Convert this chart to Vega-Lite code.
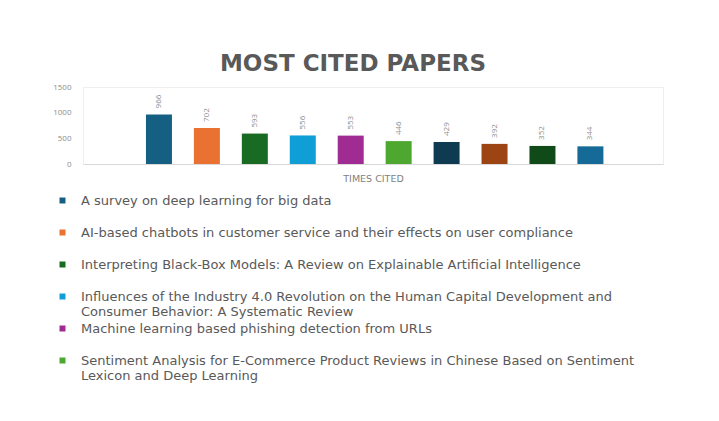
{
  "$schema": "https://vega.github.io/schema/vega-lite/v6.json",
  "width": 580,
  "height": 77,
  "padding": {"left": 52, "top": 53, "right": 10, "bottom": 10},
  "background": "white",
  "title": {
    "text": "MOST CITED PAPERS",
    "font": "DejaVu Sans",
    "fontSize": 23,
    "fontWeight": "bold",
    "color": "#595959",
    "anchor": "middle",
    "dx": -20,
    "offset": 7
  },
  "data": {
    "values": [
      {"paper": "A survey on deep learning for big data", "cited": 966, "rank": 1},
      {"paper": "AI-based chatbots in customer service and their effects on user compliance", "cited": 702, "rank": 2},
      {"paper": "Interpreting Black-Box Models: A Review on Explainable Artificial Intelligence", "cited": 593, "rank": 3},
      {"paper": "Influences of the Industry 4.0 Revolution on the Human Capital Development and Consumer Behavior: A Systematic Review", "cited": 556, "rank": 4},
      {"paper": "Machine learning based phishing detection from URLs", "cited": 553, "rank": 5},
      {"paper": "Sentiment Analysis for E-Commerce Product Reviews in Chinese Based on Sentiment Lexicon and Deep Learning", "cited": 446, "rank": 6},
      {"paper": "Paper 7", "cited": 429, "rank": 7},
      {"paper": "Paper 8", "cited": 392, "rank": 8},
      {"paper": "Paper 9", "cited": 352, "rank": 9},
      {"paper": "Paper 10", "cited": 344, "rank": 10}
    ]
  },
  "encoding": {
    "x": {
      "field": "rank",
      "type": "quantitative",
      "scale": {"domain": [-0.48, 11.41], "nice": false, "zero": false},
      "axis": {
        "labels": false,
        "ticks": false,
        "grid": false,
        "domain": true,
        "domainColor": "#d9d9d9",
        "title": "TIMES CITED",
        "titleFont": "DejaVu Sans",
        "titleFontSize": 9.5,
        "titleFontWeight": "normal",
        "titleColor": "#7f7f7f",
        "titlePadding": 9
      }
    },
    "y": {
      "field": "cited",
      "type": "quantitative",
      "scale": {"domain": [0, 1500]},
      "axis": {
        "values": [0, 500, 1000, 1500],
        "format": "d",
        "grid": false,
        "domain": false,
        "ticks": false,
        "title": null,
        "labelFont": "Open Sans",
        "labelFontSize": 8,
        "labelColor": "#8c8c8c",
        "labelPadding": 12
      }
    }
  },
  "layer": [
    {
      "mark": {"type": "bar", "size": 26},
      "encoding": {
        "color": {
          "field": "paper",
          "type": "nominal",
          "sort": {"field": "rank", "order": "ascending"},
          "scale": {
            "range": ["#156082", "#E97132", "#196B24", "#0F9ED5", "#A02B93", "#4EA72E", "#0E3A52", "#9C4414", "#104A19", "#166A98"]
          },
          "legend": {
            "orient": "none",
            "legendX": -27,
            "legendY": 107,
            "direction": "vertical",
            "columns": 1,
            "title": null,
            "values": [
              "A survey on deep learning for big data",
              "AI-based chatbots in customer service and their effects on user compliance",
              "Interpreting Black-Box Models: A Review on Explainable Artificial Intelligence",
              "Influences of the Industry 4.0 Revolution on the Human Capital Development and Consumer Behavior: A Systematic Review",
              "Machine learning based phishing detection from URLs",
              "Sentiment Analysis for E-Commerce Product Reviews in Chinese Based on Sentiment Lexicon and Deep Learning"
            ],
            "symbolType": "square",
            "symbolSize": 36,
            "symbolStrokeWidth": 0,
            "labelFont": "DejaVu Sans",
            "labelFontSize": 13,
            "labelColor": "#595959",
            "labelLimit": 0,
            "labelOffset": 12,
            "labelBaseline": "middle",
            "gridAlign": "all",
            "rowPadding": 3,
            "labelExpr": "indexof(datum.label, 'Influences') == 0 ? ['Influences of the Industry 4.0 Revolution on the Human Capital Development and', 'Consumer Behavior: A Systematic Review'] : indexof(datum.label, 'Sentiment') == 0 ? ['Sentiment Analysis for E-Commerce Product Reviews in Chinese Based on Sentiment', 'Lexicon and Deep Learning'] : datum.label"
          }
        }
      }
    },
    {
      "mark": {
        "type": "text",
        "angle": 270,
        "align": "left",
        "baseline": "middle",
        "dx": 6,
        "font": "Open Sans",
        "fontSize": 8,
        "color": "#8c8c8c"
      },
      "encoding": {
        "text": {"field": "cited", "type": "quantitative"}
      }
    }
  ],
  "config": {
    "view": {"stroke": "#eeeeee"}
  }
}
